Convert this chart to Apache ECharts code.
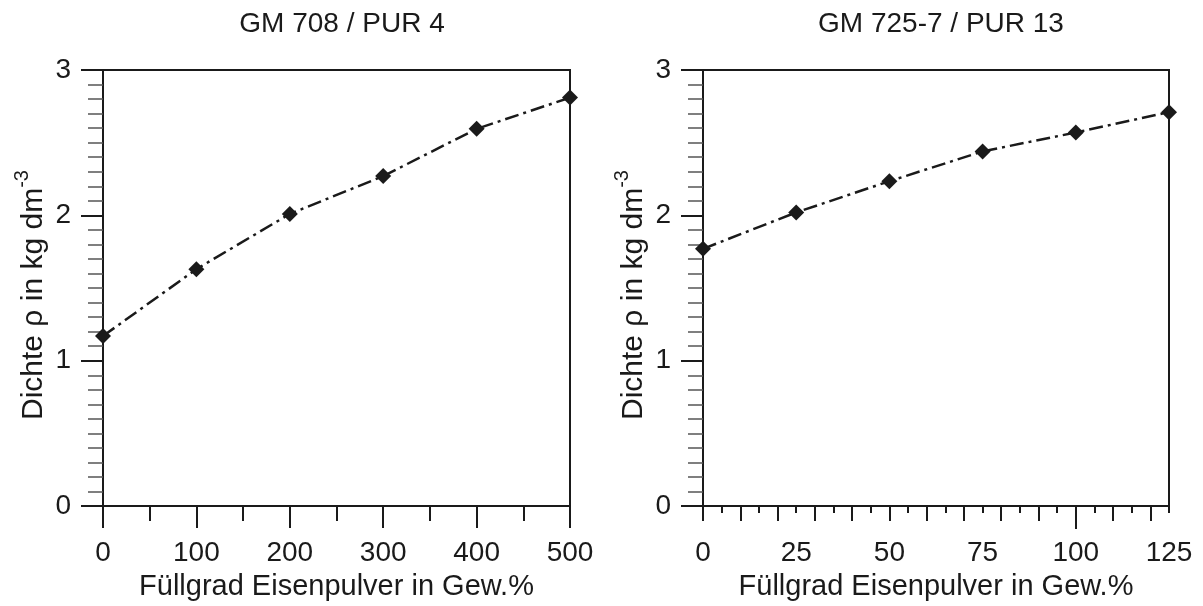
<!DOCTYPE html>
<html>
<head>
    <meta charset="UTF-8">
    <title>Dichte vs. Füllgrad</title>
    <script src="https://cdn.jsdelivr.net/npm/echarts/dist/echarts.min.js"></script>
</head>
<body style="margin:0;">
<div id="chart" style="width: 1203px; height: 606px;"></div>

<script>
    // GM 708 / PUR 4
    const fillLeft = [0, 100, 200, 300, 400, 500];
    const densityLeft = [1.17, 1.63, 2.01, 2.27, 2.595, 2.81];

    // GM 725-7 / PUR 13
    const fillRight = [0, 25, 50, 75, 100, 125];
    const densityRight = [1.77, 2.02, 2.235, 2.44, 2.57, 2.71];

    const rightTicksFine = [5, 15, 25, 35, 45, 55, 65, 75, 85, 95, 105, 115, 125];
    const rightTicksMid = [0, 10, 20, 30, 40, 50, 60, 70, 80, 90, 110, 120];
    const rightTicksLong = [100];

    const titles = ['GM 708 / PUR 4', 'GM 725-7 / PUR 13'];

    const ink = '#1a1a1a';
    const font = 'Liberation Sans, Arial, sans-serif';

    function yAxisFor(grid) {
        return {
            type: 'value',
            gridIndex: grid,
            min: 0,
            max: 3,
            interval: 1,
            name: '{a|Dichte ρ in kg dm}{s|-3}',
            nameLocation: 'middle',
            nameGap: 54,
            nameTextStyle: {
                rich: {
                    a: { fontFamily: font, fontSize: 30, color: ink, lineHeight: 37, verticalAlign: 'bottom' },
                    s: { fontFamily: font, fontSize: 20, color: ink, lineHeight: 37, verticalAlign: 'top', padding: [0, 14, 12, 0] }
                }
            },
            axisLine: { show: true, lineStyle: { color: ink, width: 2 } },
            axisTick: { show: true, length: 22, lineStyle: { color: ink, width: 2 } },
            minorTick: { show: true, splitNumber: 10, length: 15, lineStyle: { color: '#555', width: 1.5 } },
            axisLabel: { margin: 32, fontFamily: font, fontSize: 28, color: ink },
            splitLine: { show: false }
        };
    }

    function rightTickAxis(values, len) {
        return {
            type: 'value',
            gridIndex: 1,
            position: 'bottom',
            min: 0,
            max: 125,
            axisLine: { show: false },
            axisTick: { show: true, length: len, customValues: values, lineStyle: { color: ink, width: 2 } },
            axisLabel: { show: false },
            splitLine: { show: false }
        };
    }

    const chart = echarts.init(document.getElementById('chart'));
    const option = {
        animation: false,
        backgroundColor: '#fff',
        title: [
            { text: titles[0], left: 337, top: 5, textAlign: 'center',
              textStyle: { fontFamily: font, fontSize: 28, fontWeight: 'normal', color: ink } },
            { text: titles[1], left: 936, top: 5, textAlign: 'center',
              textStyle: { fontFamily: font, fontSize: 28, fontWeight: 'normal', color: ink } }
        ],
        grid: [
            { left: 103, top: 70, width: 467, height: 439, show: true, borderColor: ink, borderWidth: 2 },
            { left: 703, top: 70, width: 466, height: 439, show: true, borderColor: ink, borderWidth: 2 }
        ],
        xAxis: [
            {
                type: 'value',
                gridIndex: 0,
                position: 'bottom',
                min: 0,
                max: 500,
                interval: 100,
                name: 'Füllgrad Eisenpulver in Gew.%',
                nameLocation: 'middle',
                nameGap: 61,
                nameTextStyle: { fontFamily: font, fontSize: 29, color: ink },
                axisLine: { show: true, lineStyle: { color: ink, width: 2 } },
                axisTick: { show: true, length: 22, lineStyle: { color: ink, width: 2 } },
                minorTick: { show: true, splitNumber: 2, length: 15, lineStyle: { color: ink, width: 2 } },
                axisLabel: { margin: 33, fontFamily: font, fontSize: 28, color: ink },
                splitLine: { show: false }
            },
            {
                type: 'value',
                gridIndex: 1,
                position: 'bottom',
                min: 0,
                max: 125,
                name: 'Füllgrad Eisenpulver in Gew.%',
                nameLocation: 'middle',
                nameGap: 61,
                nameTextStyle: { fontFamily: font, fontSize: 29, color: ink },
                axisLine: { show: true, lineStyle: { color: ink, width: 2 } },
                axisTick: { show: true, length: 7, customValues: rightTicksFine, lineStyle: { color: ink, width: 2 } },
                axisLabel: { margin: 33, fontFamily: font, fontSize: 28, color: ink, customValues: fillRight },
                splitLine: { show: false }
            },
            rightTickAxis(rightTicksMid, 15),
            rightTickAxis(rightTicksLong, 23)
        ],
        yAxis: [yAxisFor(0), yAxisFor(1)],
        series: [
            {
                type: 'line',
                xAxisIndex: 0,
                yAxisIndex: 0,
                data: fillLeft.map((x, i) => [x, densityLeft[i]]),
                clip: false,
                symbol: 'diamond',
                symbolSize: 16,
                itemStyle: { color: ink },
                lineStyle: { color: ink, width: 2.5, type: [14, 5, 3, 5] }
            },
            {
                type: 'line',
                xAxisIndex: 1,
                yAxisIndex: 1,
                data: fillRight.map((x, i) => [x, densityRight[i]]),
                clip: false,
                symbol: 'diamond',
                symbolSize: 16,
                itemStyle: { color: ink },
                lineStyle: { color: ink, width: 2.5, type: [14, 5, 3, 5] }
            }
        ]
    };

    chart.setOption(option);
</script>
</body>
</html>
